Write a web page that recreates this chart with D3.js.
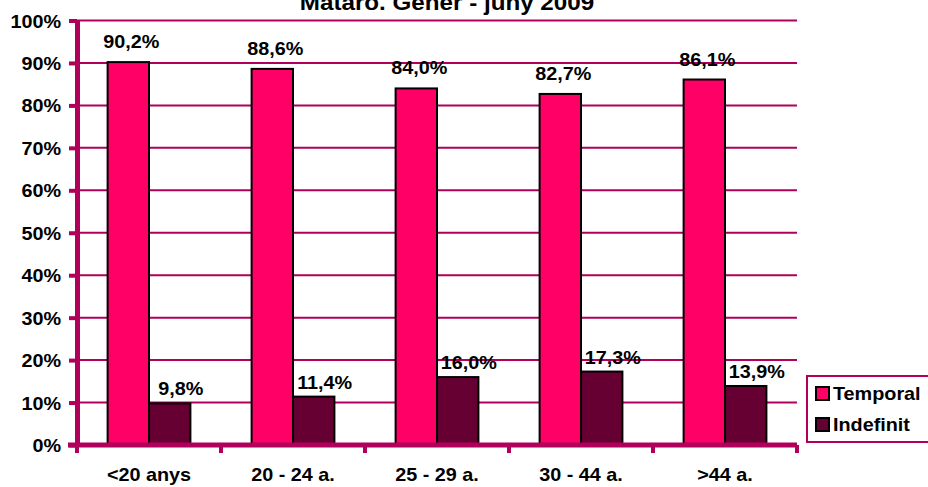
<!DOCTYPE html>
<head>
<meta charset="utf-8">
<script src="https://cdn.jsdelivr.net/npm/d3@7"></script>
<style>
body { margin: 0; background: #fff; }
text { font-family: "Liberation Sans", Arial, sans-serif; font-weight: bold; fill: #000; }
</style>
</head>
<body>
<div id="chart"></div>
<script>

// data
var title = "Mataró. Gener - juny 2009";
var categories = ["<20 anys", "20 - 24 a.", "25 - 29 a.", "30 - 44 a.", ">44 a."];
var seriesNames = ["Temporal", "Indefinit"];
var temporal = [90.2, 88.6, 84.0, 82.7, 86.1];
var indefinit = [9.8, 11.4, 16.0, 17.3, 13.9];
var yTicks = [0, 10, 20, 30, 40, 50, 60, 70, 80, 90, 100];

var colors = {Temporal: "#ff0066", Indefinit: "#660033"};
var axisColor = "#b0005c";
var stretch = 1.1;   // text in the original is a bit wide
var fontSize = "18px";

var W = 928, H = 487;
var plot = {left: 77, right: 797, top: 20.5, bottom: 445};

var svg = d3.select("#chart").append("svg")
    .attr("width", W)
    .attr("height", H);

var rows = categories.map(function(c, i) {
  return {cat: c, Temporal: temporal[i], Indefinit: indefinit[i]};
});

// scales
var x0 = d3.scaleBand()
    .domain(categories)
    .range([plot.left, plot.right])
    .paddingInner(0.425)
    .paddingOuter(0.2125);

var x1 = d3.scaleBand()
    .domain(seriesNames)
    .range([0, x0.bandwidth()]);

var y = d3.scaleLinear()
    .domain([0, 100])
    .range([plot.bottom, plot.top]);

function fmt(v) { return v.toFixed(1).replace(".", ",") + "%"; }

// put a stretched text at x,y
function stretchText(sel, x, yy) {
  sel.attr("transform", "translate(" + x + "," + yy + ") scale(" + stretch + ",1)");
}

// gridlines
svg.append("g")
    .selectAll("line")
    .data(yTicks.filter(function(d) { return d > 0; }))
    .enter().append("line")
    .attr("x1", plot.left)
    .attr("x2", plot.right)
    .attr("y1", function(d) { return y(d); })
    .attr("y2", function(d) { return y(d); })
    .attr("stroke", axisColor)
    .attr("stroke-width", 2);

// bars
var groups = svg.append("g")
    .selectAll("g")
    .data(rows)
    .enter().append("g")
    .attr("transform", function(d) { return "translate(" + x0(d.cat) + ",0)"; });

groups.selectAll("rect")
    .data(function(d) { return seriesNames.map(function(s) { return {key: s, value: d[s]}; }); })
    .enter().append("rect")
    .attr("x", function(d) { return x1(d.key); })
    .attr("y", function(d) { return y(d.value); })
    .attr("width", x1.bandwidth())
    .attr("height", function(d) { return y(0) - y(d.value); })
    .attr("fill", function(d) { return colors[d.key]; })
    .attr("stroke", "#000")
    .attr("stroke-width", 2);

// value labels
var labelGap = {Temporal: 14, Indefinit: 8};
var labelShift = {Temporal: 3, Indefinit: 11};

groups.selectAll("text.val")
    .data(function(d) { return seriesNames.map(function(s) { return {key: s, value: d[s]}; }); })
    .enter().append("text")
    .attr("class", "val")
    .style("font-size", fontSize)
    .attr("text-anchor", "middle")
    .text(function(d) { return fmt(d.value); })
    .each(function(d) {
      stretchText(d3.select(this),
        x1(d.key) + x1.bandwidth() / 2 + labelShift[d.key],
        y(d.value) - labelGap[d.key]);
    });

// y axis
var yAxis = svg.append("g")
    .attr("transform", "translate(" + plot.left + ",0)")
    .call(d3.axisLeft(y)
        .tickValues(yTicks)
        .tickSize(8)
        .tickSizeOuter(0)
        .tickFormat(function(d) { return d + "%"; }));

yAxis.select(".domain")
    .attr("stroke", axisColor)
    .attr("stroke-width", 5);
yAxis.selectAll(".tick line")
    .attr("stroke", axisColor)
    .attr("stroke-width", 4);
yAxis.selectAll(".tick text")
    .attr("x", null)
    .attr("dy", null)
    .style("font-size", fontSize)
    .style("font-family", null)
    .attr("fill", "#000")
    .each(function() { stretchText(d3.select(this), -16, 6.5); });

// x axis line and category ticks
var step = x0.step();
var bounds = categories.map(function(c) { return x0(c) - step * x0.paddingOuter(); });
bounds.push(plot.right);

svg.append("line")
    .attr("x1", plot.left - 9)
    .attr("x2", plot.right)
    .attr("y1", plot.bottom)
    .attr("y2", plot.bottom)
    .attr("stroke", axisColor)
    .attr("stroke-width", 5);

svg.append("g")
    .selectAll("line")
    .data(bounds)
    .enter().append("line")
    .attr("x1", function(d) { return d; })
    .attr("x2", function(d) { return d; })
    .attr("y1", plot.bottom)
    .attr("y2", plot.bottom + 8)
    .attr("stroke", axisColor)
    .attr("stroke-width", 4);

var xAxis = svg.append("g")
    .attr("transform", "translate(0," + plot.bottom + ")")
    .call(d3.axisBottom(x0).tickSize(0));
xAxis.select(".domain").remove();
xAxis.selectAll(".tick text")
    .attr("y", null)
    .attr("dy", null)
    .style("font-size", fontSize)
    .style("font-family", null)
    .attr("fill", "#000")
    .each(function() { stretchText(d3.select(this), 0, 36); });

// title (cut at the top edge, as in the original)
svg.append("text")
    .attr("text-anchor", "middle")
    .style("font-size", "22px")
    .text(title)
    .call(stretchText, 447, 10);

// legend
var legend = svg.append("g");
legend.append("rect")
    .attr("x", 807)
    .attr("y", 376)
    .attr("width", 126)
    .attr("height", 66)
    .attr("fill", "#fff")
    .attr("stroke", axisColor)
    .attr("stroke-width", 2);

var items = legend.selectAll("g")
    .data(seriesNames)
    .enter().append("g")
    .attr("transform", function(d, i) { return "translate(816," + (387 + i * 31) + ")"; });

items.append("rect")
    .attr("width", 13)
    .attr("height", 13)
    .attr("fill", function(d) { return colors[d]; })
    .attr("stroke", "#000")
    .attr("stroke-width", 2);

items.append("text")
    .style("font-size", fontSize)
    .text(function(d) { return d; })
    .each(function() { stretchText(d3.select(this), 17, 13); });

</script>
</body>
